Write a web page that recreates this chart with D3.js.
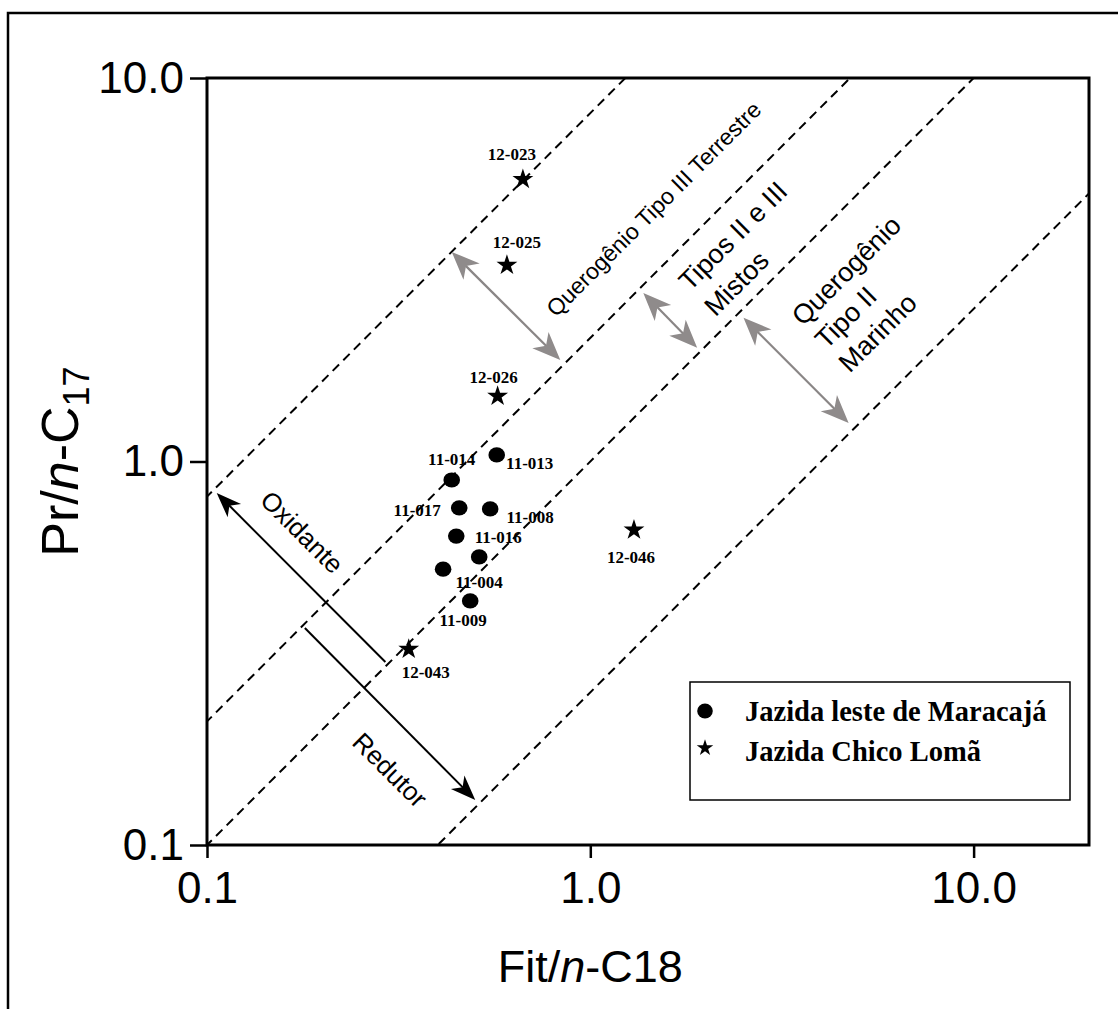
<!DOCTYPE html>
<html>
<head>
<meta charset="utf-8">
<script src="https://cdn.jsdelivr.net/npm/d3@7"></script>
<style>
  body { margin: 0; background: #fff; }
  svg { display: block; }
</style>
</head>
<body>
<div id="content"></div>
<script>
// dados
var maracajaNames = ["11-013", "11-014", "11-017", "11-008", "11-016", "11-004", "", "11-009"];
var maracajaFit   = [0.570, 0.435, 0.455, 0.548, 0.447, 0.513, 0.413, 0.486];
var maracajaPr    = [1.04, 0.895, 0.757, 0.752, 0.639, 0.564, 0.524, 0.433];

var chicoNames = ["12-023", "12-025", "12-026", "12-046", "12-043"];
var chicoFit   = [0.667, 0.606, 0.573, 1.30, 0.336];
var chicoPr    = [5.44, 3.25, 1.48, 0.663, 0.324];

var xTicks = [0.1, 1, 10];
var yTicks = [0.1, 1, 10];

// retas Pr/n-C17 = k * Fit/n-C18
var boundaryRatios = [8.1, 2.1, 1, 0.25];

var legendLabels = ["Jazida leste de Maracajá", "Jazida Chico Lomã"];

// setas (extremos em unidades dos eixos)
var redoxArrows = [
  { from: [0.292, 0.300], to: [0.106, 0.828] },
  { from: [0.180, 0.368], to: [0.501, 0.131] }
];
var kerogenArrows = [
  [[0.435, 3.52], [0.835, 1.84]],
  [[1.375, 2.75], [1.90, 1.98]],
  [[2.51, 2.37], [4.72, 1.26]]
];

// deslocamento dos rótulos das amostras (px)
var labelOffset = {
  "11-013": [33, 8], "11-014": [0, -21], "11-017": [-42, 2], "11-008": [40, 8],
  "11-016": [42, 1], "11-004": [0, 25], "11-009": [-7, 19],
  "12-023": [-11, -25], "12-025": [10, -23], "12-026": [-4, -19],
  "12-046": [-3, 27], "12-043": [17, 23]
};

// dimensiones
var width = 1118;
var height = 1009;
var plotL = 207, plotR = 1089, plotT = 78, plotB = 845;

var svg = d3.select("#content")
  .append("svg")
  .attr("width", width)
  .attr("height", height);

// moldura externa
svg.append("path")
  .attr("d", "M8,1009 L8,13 L1118,13")
  .attr("fill", "none")
  .attr("stroke", "#000")
  .attr("stroke-width", 2.5);

var x = d3.scaleLog().domain([0.1, 20]).range([plotL, plotR]);
var y = d3.scaleLog().domain([0.1, 10]).range([plotB, plotT]);

svg.append("clipPath").attr("id", "plot-clip")
  .append("rect")
  .attr("x", plotL).attr("y", plotT)
  .attr("width", plotR - plotL).attr("height", plotB - plotT);

// retas tracejadas
svg.append("g")
  .attr("clip-path", "url(#plot-clip)")
  .selectAll("line")
  .data(boundaryRatios)
  .enter().append("line")
  .attr("x1", x(0.01)).attr("y1", function(k) { return y(0.01 * k); })
  .attr("x2", x(100)).attr("y2", function(k) { return y(100 * k); })
  .attr("stroke", "#000")
  .attr("stroke-width", 2)
  .attr("stroke-dasharray", "9,6");

// eixos
var xAxis = svg.append("g")
  .attr("transform", "translate(0," + plotB + ")")
  .call(d3.axisBottom(x).tickValues(xTicks).tickFormat(d3.format(".1f")).tickSize(13).tickPadding(14));
var yAxis = svg.append("g")
  .attr("transform", "translate(" + plotL + ",0)")
  .call(d3.axisLeft(y).tickValues(yTicks).tickFormat(d3.format(".1f")).tickSize(17).tickPadding(6));

[xAxis, yAxis].forEach(function(a) {
  a.select(".domain").remove();
  a.selectAll("line").attr("stroke", "#000").attr("stroke-width", 2.5);
  a.selectAll("text")
    .attr("fill", "#000")
    .style("font-family", "'Liberation Sans', Arial, sans-serif")
    .style("font-size", "44px");
});

svg.append("rect")
  .attr("x", plotL).attr("y", plotT)
  .attr("width", plotR - plotL).attr("height", plotB - plotT)
  .attr("fill", "none")
  .attr("stroke", "#000")
  .attr("stroke-width", 3);

// títulos dos eixos
var xTitle = svg.append("text")
  .attr("x", x(1)).attr("y", 982)
  .attr("text-anchor", "middle")
  .style("font-family", "'Liberation Sans', Arial, sans-serif")
  .style("font-size", "45px");
xTitle.append("tspan").text("Fit/");
xTitle.append("tspan").style("font-style", "italic").text("n");
xTitle.append("tspan").text("-C18");

var yTitle = svg.append("text")
  .attr("transform", "translate(78," + y(1) + ") rotate(-90)")
  .attr("text-anchor", "middle")
  .style("font-family", "'Liberation Sans', Arial, sans-serif")
  .style("font-size", "52px");
yTitle.append("tspan").text("Pr/");
yTitle.append("tspan").style("font-style", "italic").text("n");
yTitle.append("tspan").text("-C");
yTitle.append("tspan").attr("dy", "0.3em").style("font-size", "36px").text("17");

// setas
function arrowHead(g, p, q, len, wid, color) {
  var a = Math.atan2(q[1] - p[1], q[0] - p[0]) * 180 / Math.PI;
  g.append("path")
    .attr("d", "M0,0 L" + (-len) + "," + (-wid / 2) + " L" + (-len * 0.72) + ",0 L" + (-len) + "," + (wid / 2) + " Z")
    .attr("transform", "translate(" + q[0] + "," + q[1] + ") rotate(" + a + ")")
    .attr("fill", color);
}
function shorten(p, q, d) {
  var dx = q[0] - p[0], dy = q[1] - p[1], l = Math.sqrt(dx * dx + dy * dy);
  return [q[0] - dx / l * d, q[1] - dy / l * d];
}

var arrows = svg.append("g");
redoxArrows.forEach(function(r) {
  var p = [x(r.from[0]), y(r.from[1])], q = [x(r.to[0]), y(r.to[1])];
  var e = shorten(p, q, 16);
  arrows.append("line")
    .attr("x1", p[0]).attr("y1", p[1]).attr("x2", e[0]).attr("y2", e[1])
    .attr("stroke", "#000").attr("stroke-width", 2);
  arrowHead(arrows, p, q, 25, 19, "#000");
});

kerogenArrows.forEach(function(r) {
  var p = [x(r[0][0]), y(r[0][1])], q = [x(r[1][0]), y(r[1][1])];
  var a = shorten(q, p, 18), b = shorten(p, q, 18);
  arrows.append("line")
    .attr("x1", a[0]).attr("y1", a[1]).attr("x2", b[0]).attr("y2", b[1])
    .attr("stroke", "#8a8686").attr("stroke-width", 2.2);
  arrowHead(arrows, p, q, 28, 23, "#8f8b8b");
  arrowHead(arrows, q, p, 28, 23, "#8f8b8b");
});

// textos das regiões
var sans = "'Liberation Sans', Arial, sans-serif";
function rotatedText(px, py, angle, size, lines, gap) {
  var t = svg.append("text")
    .attr("transform", "translate(" + px + "," + py + ") rotate(" + angle + ")")
    .style("font-family", sans)
    .style("font-size", size + "px");
  lines.forEach(function(s, i) {
    t.append("tspan").attr("x", 0).attr("y", i * gap).text(s);
  });
  return t;
}
rotatedText(556, 318, -45, 23, ["Querogênio Tipo III Terrestre"], 0);
rotatedText(690, 292, -45, 27, ["Tipos II e III", "Mistos"], 36);
rotatedText(803, 327, -45, 27, ["Querogênio", "Tipo II", "Marinho"], 33);
rotatedText(302, 532, 45, 26, ["Oxidante"], 0).attr("text-anchor", "middle").attr("dy", "0.35em");
rotatedText(390, 770, 45, 26, ["Redutor"], 0).attr("text-anchor", "middle").attr("dy", "0.35em");

// pontos
var maracaja = maracajaNames.map(function(n, i) { return { name: n, fit: maracajaFit[i], pr: maracajaPr[i] }; });
var chico = chicoNames.map(function(n, i) { return { name: n, fit: chicoFit[i], pr: chicoPr[i] }; });

svg.append("g").selectAll("ellipse")
  .data(maracaja)
  .enter().append("ellipse")
  .attr("cx", function(d) { return x(d.fit); })
  .attr("cy", function(d) { return y(d.pr); })
  .attr("rx", 8.3).attr("ry", 7.6)
  .attr("fill", "#000");

var star = d3.symbol().type(d3.symbolStar).size(135);
svg.append("g").selectAll("path")
  .data(chico)
  .enter().append("path")
  .attr("d", star)
  .attr("transform", function(d) { return "translate(" + x(d.fit) + "," + y(d.pr) + ")"; })
  .attr("fill", "#000");

var serif = "'Liberation Serif', 'Times New Roman', serif";
svg.append("g").selectAll("text")
  .data(maracaja.concat(chico).filter(function(d) { return d.name; }))
  .enter().append("text")
  .attr("x", function(d) { return x(d.fit) + labelOffset[d.name][0]; })
  .attr("y", function(d) { return y(d.pr) + labelOffset[d.name][1]; })
  .attr("dy", "0.35em")
  .attr("text-anchor", "middle")
  .style("font-family", serif)
  .style("font-weight", "bold")
  .style("font-size", "17px")
  .text(function(d) { return d.name; });

// legenda
var legend = svg.append("g");
legend.append("rect")
  .attr("x", 690).attr("y", 682).attr("width", 380).attr("height", 118)
  .attr("fill", "#fff").attr("stroke", "#000").attr("stroke-width", 1.5);
legend.append("ellipse").attr("cx", 705).attr("cy", 711).attr("rx", 7.8).attr("ry", 7.4).attr("fill", "#000");
legend.append("path").attr("d", d3.symbol().type(d3.symbolStar).size(85)).attr("transform", "translate(705,748)").attr("fill", "#000");
legend.selectAll("text.lg")
  .data(legendLabels)
  .enter().append("text")
  .attr("class", "lg")
  .attr("x", 745)
  .attr("y", function(d, i) { return 721 + i * 40; })
  .style("font-family", serif)
  .style("font-weight", "bold")
  .style("font-size", "28.5px")
  .text(function(d) { return d; });
</script>
</body>
</html>
